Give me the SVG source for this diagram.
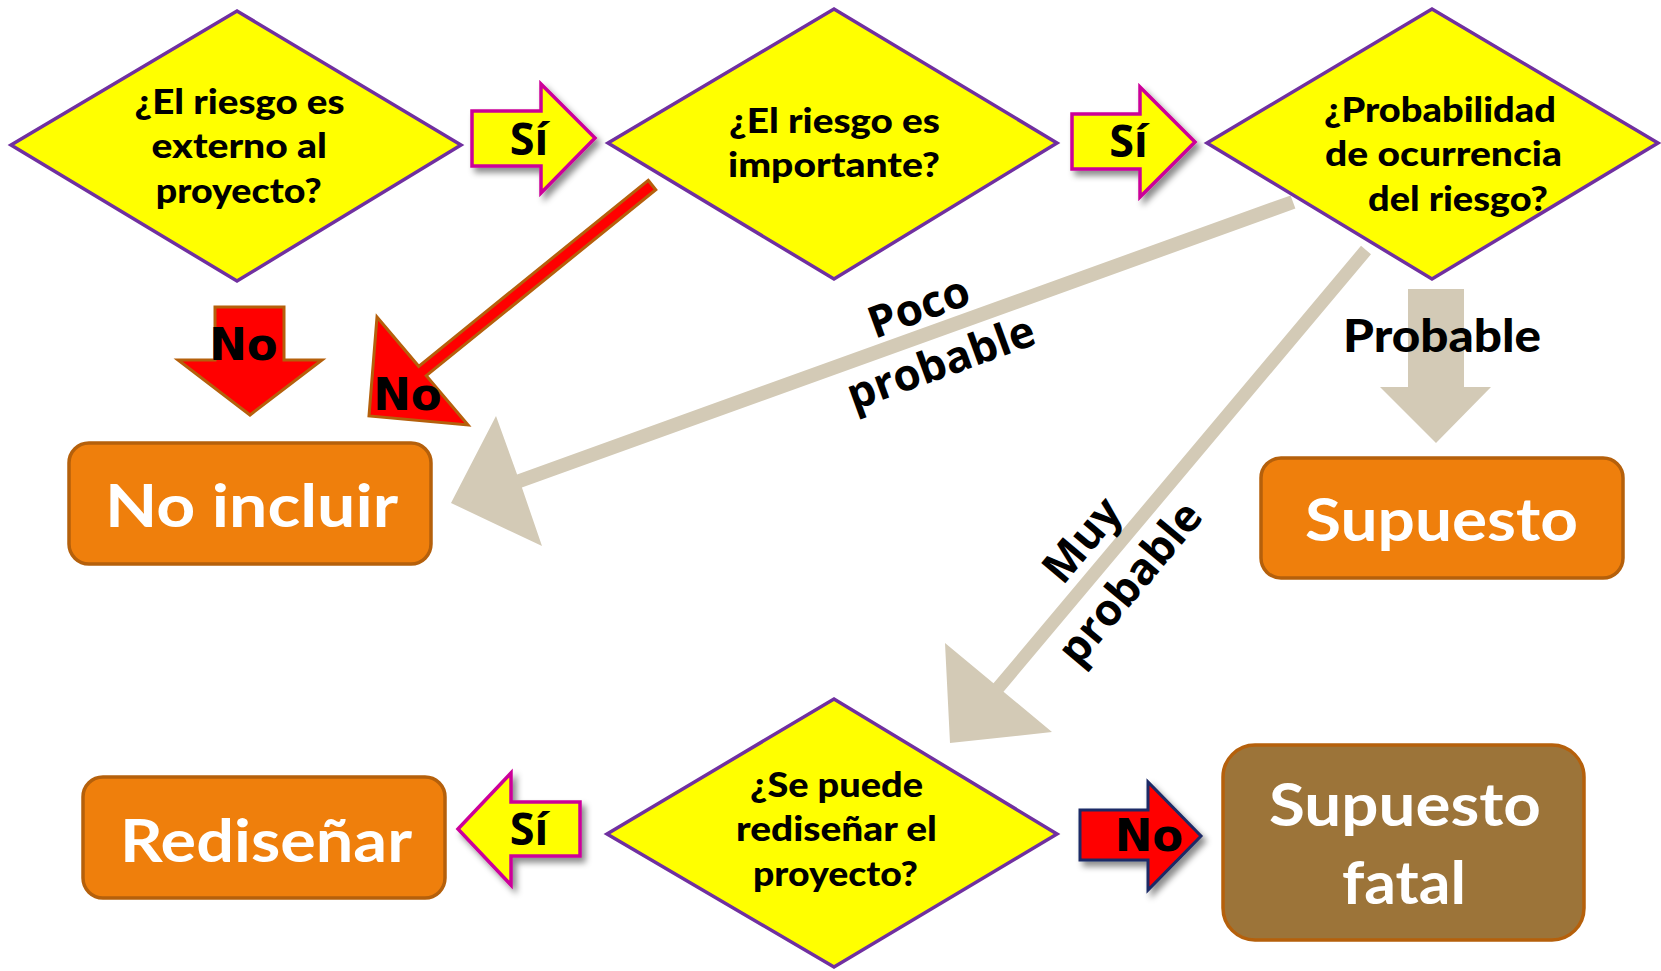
<svg xmlns="http://www.w3.org/2000/svg" width="1661" height="971" viewBox="0 0 1661 971">
<defs>
<style>
.dia{fill:#FFFF00;stroke:#7030A0;stroke-width:3.5;stroke-linejoin:miter}
.dt{font-family:Lato,"Liberation Sans",sans-serif;font-weight:900;font-size:34px;fill:#000}
.box{fill:#EF7F0C;stroke:#B5600B;stroke-width:3.5}
.fatal{fill:#9C7439;stroke:#B5600B;stroke-width:3.5}
.bt{font-family:Lato,"Liberation Sans",sans-serif;font-weight:700;font-size:60px;fill:#fff}
.si{fill:#FFFF00;stroke:#CC0099;stroke-width:3.5;stroke-linejoin:miter}
.sit{font-family:"Open Sans","DejaVu Sans",sans-serif;font-weight:700;font-size:45px;fill:#000;text-anchor:middle}
.no{fill:#FF0000;stroke:#B5600B;stroke-width:3}
.nonavy{fill:#FF0000;stroke:#1B2A66;stroke-width:3}
.not{font-family:"DejaVu Sans",sans-serif;font-weight:700;font-size:45px;fill:#000;text-anchor:middle}
.beige{fill:#D3CAB6}
.lt{font-family:"Open Sans","DejaVu Sans",sans-serif;font-weight:700;font-size:44px;fill:#000;text-anchor:middle}
.pt{font-family:Lato,"Liberation Sans",sans-serif;font-weight:900;font-size:46px;fill:#000}
</style>
<filter id="sh" x="-20%" y="-20%" width="150%" height="160%">
<feGaussianBlur in="SourceAlpha" stdDeviation="3"/>
<feOffset dx="4" dy="5" result="b"/>
<feFlood flood-color="#000" flood-opacity="0.45"/>
<feComposite in2="b" operator="in"/>
<feMerge><feMergeNode/><feMergeNode in="SourceGraphic"/></feMerge>
</filter>
</defs>
<rect width="1661" height="971" fill="#fff"/>

<g id="connectors">
  <polygon class="beige" points="1290.6,195.4 1295.4,208.6 521.9,487.6 542,546 451,503 496,416 517.1,474.4"/>
  <text class="lt" transform="translate(924,321) rotate(-20)">Poco</text>
  <text class="lt" transform="translate(946,377) rotate(-20)">probable</text>
  <polygon class="beige" points="1361,245.8 1371,254.2 1003.5,691.7 1052,732 950,743 945,643 993.5,683.3"/>
  <text class="lt" transform="translate(1093.5,549.6) rotate(-50)">Muy</text>
  <text class="lt" transform="translate(1141.5,592.6) rotate(-50)">probable</text>
  <polygon class="beige" points="1408,289 1464,289 1464,387 1491,387 1436,443 1380,387 1408,387"/>
  <text class="pt" x="1343" y="352" textLength="198" lengthAdjust="spacingAndGlyphs">Probable</text>
  <polygon class="si" filter="url(#sh)" points="472,111 541,111 541,84 595,138 541,193 541,166 472,166"/>
  <text class="sit" x="529" y="155">Sí</text>
  <polygon class="si" filter="url(#sh)" points="1072,114 1140,114 1140,87 1195,142 1140,197 1140,169 1072,169"/>
  <text class="sit" x="1128.5" y="157">Sí</text>
  <polygon class="si" filter="url(#sh)" points="458,829 511,773 511,802 580,802 580,856 511,856 511,885"/>
  <text class="sit" x="529" y="845">Sí</text>
  <polygon class="no" points="215,307 284,307 284,360 322,360 250,415 178,360 215,360"/>
  <text class="not" x="243.5" y="360">No</text>
  <polygon class="no" points="648.2,180.3 655.8,189.7 426.3,375.7 468,425 369,416 377,317 418.7,366.3"/>
  <text class="not" x="407.5" y="410">No</text>
  <polygon class="nonavy" filter="url(#sh)" points="1080,810 1148,810 1148,782 1201,836 1148,890 1148,860 1080,860"/>
  <text class="not" x="1149" y="851">No</text>
</g>

<g id="q-externo">
  <polygon class="dia" points="11,145 237,11 461,145 237,281"/>
  <text class="dt" x="134.5" y="114" textLength="210" lengthAdjust="spacingAndGlyphs">¿El riesgo es</text>
  <text class="dt" x="151.5" y="158" textLength="175.5" lengthAdjust="spacingAndGlyphs">externo al</text>
  <text class="dt" x="155.7" y="203" textLength="166" lengthAdjust="spacingAndGlyphs">proyecto?</text>
</g>
<g id="q-importante">
  <polygon class="dia" points="608,143 834,9 1057,143 834,279"/>
  <text class="dt" x="729" y="133" textLength="211" lengthAdjust="spacingAndGlyphs">¿El riesgo es</text>
  <text class="dt" x="728" y="177" textLength="212" lengthAdjust="spacingAndGlyphs">importante?</text>
</g>
<g id="q-probabilidad">
  <polygon class="dia" points="1207,143 1432,9 1658,143 1432,279"/>
  <text class="dt" x="1324" y="122" textLength="232" lengthAdjust="spacingAndGlyphs">¿Probabilidad</text>
  <text class="dt" x="1325" y="166" textLength="237" lengthAdjust="spacingAndGlyphs">de ocurrencia</text>
  <text class="dt" x="1368" y="211" textLength="180" lengthAdjust="spacingAndGlyphs">del riesgo?</text>
</g>
<g id="q-redisenar">
  <polygon class="dia" points="607,834 834,699 1057,834 834,967"/>
  <text class="dt" x="750" y="797" textLength="173" lengthAdjust="spacingAndGlyphs">¿Se puede</text>
  <text class="dt" x="736" y="841" textLength="201" lengthAdjust="spacingAndGlyphs">rediseñar el</text>
  <text class="dt" x="753" y="886" textLength="165" lengthAdjust="spacingAndGlyphs">proyecto?</text>
</g>
<g id="no-incluir">
  <rect class="box" x="69" y="443" width="362" height="121" rx="20"/>
  <text class="bt" x="105" y="527" textLength="293" lengthAdjust="spacingAndGlyphs">No incluir</text>
</g>
<g id="supuesto">
  <rect class="box" x="1261" y="458" width="362" height="120" rx="20"/>
  <text class="bt" x="1305" y="541" textLength="273" lengthAdjust="spacingAndGlyphs">Supuesto</text>
</g>
<g id="redisenar">
  <rect class="box" x="83" y="777" width="362" height="121" rx="20"/>
  <text class="bt" x="120" y="862" textLength="292" lengthAdjust="spacingAndGlyphs">Rediseñar</text>
</g>
<g id="supuesto-fatal">
  <rect class="fatal" x="1223" y="745" width="361" height="195" rx="32"/>
  <text class="bt" x="1269" y="826" textLength="272" lengthAdjust="spacingAndGlyphs">Supuesto</text>
  <text class="bt" x="1342" y="904" textLength="124" lengthAdjust="spacingAndGlyphs">fatal</text>
</g>
</svg>
